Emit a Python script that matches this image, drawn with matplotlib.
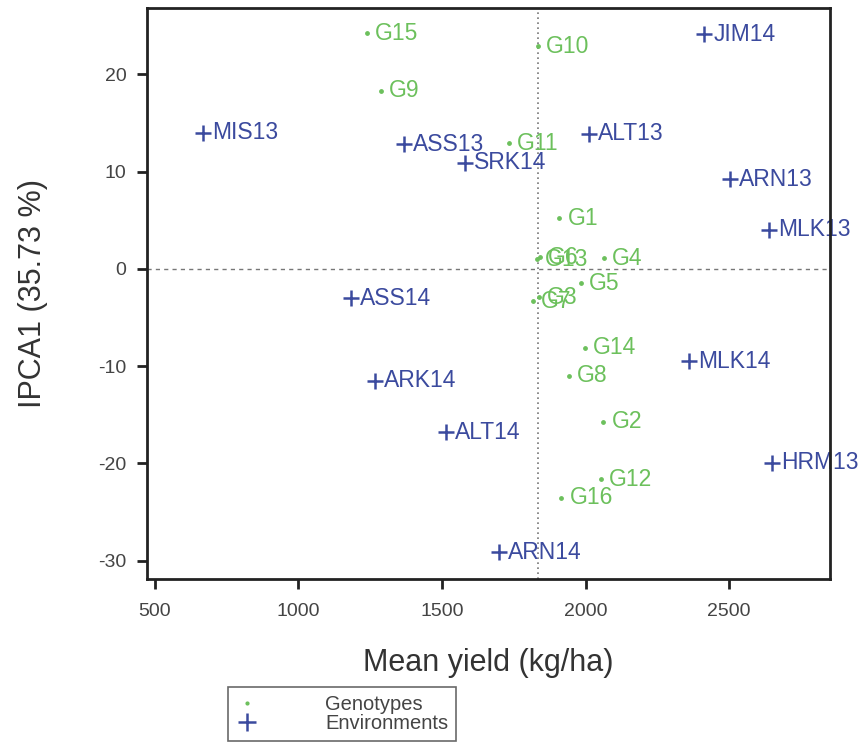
import matplotlib.pyplot as plt
from matplotlib.lines import Line2D

plt.rcParams['font.family'] = ['Liberation Sans', 'DejaVu Sans']
plt.rcParams['axes.unicode_minus'] = False

# genotypes: mean yield (kg/ha) and IPCA1 scores
gen_names = ["G1", "G2", "G3", "G4", "G5", "G6", "G7", "G8",
             "G9", "G10", "G11", "G12", "G13", "G14", "G15", "G16"]
gen_yield = [1908, 2061, 1838, 2064, 1984, 1840, 1817, 1942,
             1287, 1834, 1733, 2054, 1831, 1998, 1239, 1915]
gen_ipca = [5.2, -15.7, -2.9, 1.1, -1.5, 1.2, -3.3, -11.0,
            18.3, 22.9, 12.9, -21.6, 1.0, -8.1, 24.2, -23.5]

# environments
env_names = ["MIS13", "ASS13", "SRK14", "ALT13", "ARN13", "MLK13", "JIM14",
             "ASS14", "ARK14", "ALT14", "MLK14", "HRM13", "ARN14"]
env_yield = [667, 1368, 1580, 2012, 2503, 2639, 2413,
             1183, 1267, 1514, 2361, 2650, 1699]
env_ipca = [14.0, 12.8, 10.9, 13.9, 9.2, 4.0, 24.1,
            -3.0, -11.5, -16.8, -9.5, -19.9, -29.1]

grand_mean = 1836

green = "#6cc05c"
blue = "#3b4a9e"

fig = plt.figure(figsize=(8.63, 7.42), dpi=100)
ax = fig.add_axes([0.170, 0.220, 0.792, 0.769])

ax.axvline(grand_mean, color="#777777", linestyle=(0, (1, 2)), linewidth=1.2, zorder=1)
ax.axhline(0, color="#777777", linestyle=(0, (3, 3)), linewidth=1.0, zorder=1)

ax.scatter(gen_yield, gen_ipca, s=6, color=green, zorder=3)
for n, x, y in zip(gen_names, gen_yield, gen_ipca):
    ax.annotate(n, (x, y), xytext=(6, 0), textcoords="offset points",
                va="center", ha="left", color=green, fontsize=16.5, zorder=2)

ax.scatter(env_yield, env_ipca, s=130, marker="+", color=blue, linewidths=1.8, zorder=3)
for n, x, y in zip(env_names, env_yield, env_ipca):
    ax.annotate(n, (x, y), xytext=(6.5, 0), textcoords="offset points",
                va="center", ha="left", color=blue, fontsize=16.5, zorder=2,
                annotation_clip=False)

ax.set_xlim(472, 2852)
ax.set_ylim(-31.85, 26.8)
ax.set_xticks([500, 1000, 1500, 2000, 2500])
ax.set_yticks([-30, -20, -10, 0, 10, 20])
ax.tick_params(direction="out", length=7.5, width=2, colors="#222222",
               labelsize=14, labelcolor="#444444")
ax.tick_params(axis="x", pad=10)
ax.tick_params(axis="y", pad=7)

for sp in ax.spines.values():
    sp.set_linewidth(2)
    sp.set_color("#222222")
    sp.set_zorder(5)

ax.set_xlabel("Mean yield (kg/ha)", fontsize=22, color="#333333", labelpad=20)
ax.set_ylabel("IPCA1 (35.73 %)", fontsize=22, color="#333333", labelpad=36)

handles = [
    Line2D([], [], marker=".", linestyle="none", color=green, markersize=4),
    Line2D([], [], marker="+", linestyle="none", color=blue, markersize=13, markeredgewidth=1.8),
]
leg = fig.legend(handles, ["Genotypes", "Environments"], loc="upper left",
                 bbox_to_anchor=(0.253, 0.088), fontsize=14.5, frameon=True,
                 fancybox=False, edgecolor="#444444", handletextpad=3.4,
                 labelspacing=0.0, borderpad=0.4, handlelength=1.0,
                 labelcolor="#444444")
leg.get_frame().set_linewidth(1.2)

fig.savefig("out.png", dpi=100)
